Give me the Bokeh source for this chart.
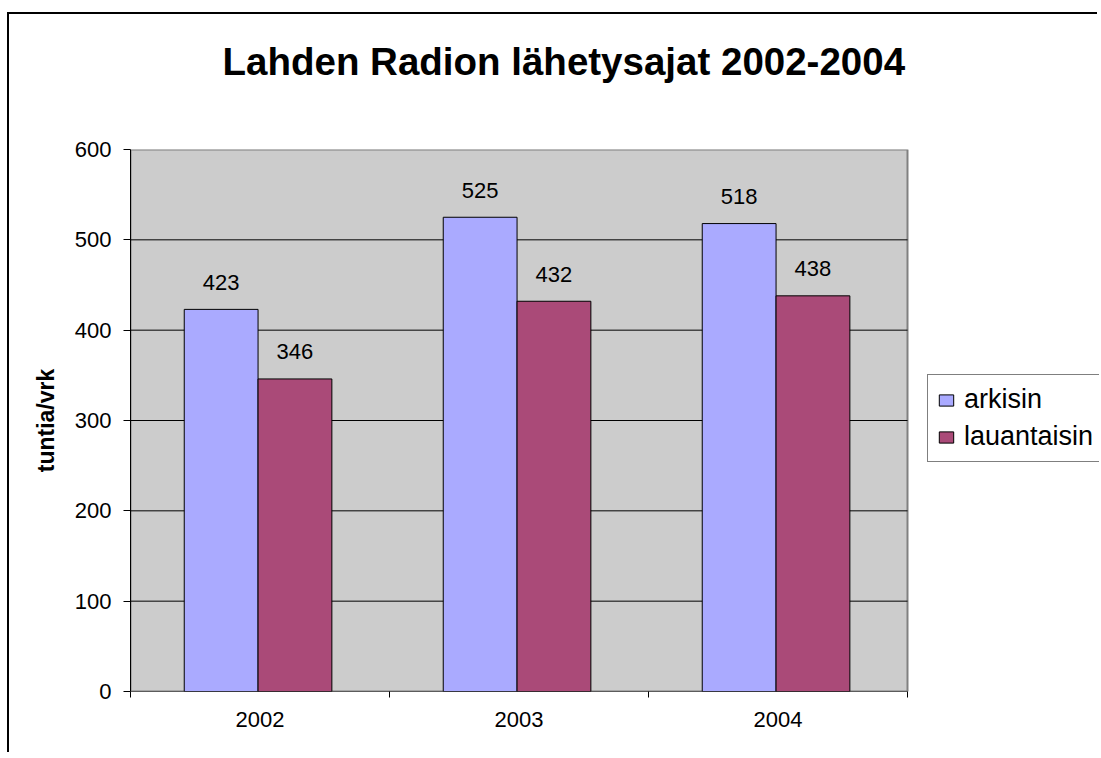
from bokeh.plotting import figure
from bokeh.models import Range1d, FixedTicker, Legend, LegendItem, ColumnDataSource, Title
from bokeh.core.properties import value
from bokeh.embed import file_html
from bokeh.resources import INLINE

years = ["2002", "2003", "2004"]
arkisin = [423, 525, 518]
lauantaisin = [346, 432, 438]
y_ticks = [0, 100, 200, 300, 400, 500, 600]
series_names = ["arkisin", "lauantaisin"]
colors = ["#AAAAFF", "#AA4A78"]
title_text = "Lahden Radion lähetysajat 2002-2004"

FONT = "Liberation Sans"

n = len(years)
idx = list(range(n))
y_max = y_ticks[-1]
src = ColumnDataSource(dict(
    x1=[i + 0.35 for i in idx],
    x2=[i + 0.635 for i in idx],
    a=arkisin, l=lauantaisin,
    ta=[str(v) for v in arkisin], tl=[str(v) for v in lauantaisin],
))

W, H = 1090, 740
# the frame spans the plot area plus the legend area to its right
x_end = n * 969 / 777
p = figure(width=W, height=H, output_backend="svg", toolbar_location=None,
           x_range=Range1d(0, x_end), y_range=Range1d(0, y_max),
           min_border_left=121, min_border_right=0,
           min_border_top=135, min_border_bottom=63,
           background_fill_color="white", border_fill_color="white")
p.title = None
p.outline_line_color = None
p.styles = {"margin-top": "12px", "margin-left": "7px",
            "border-top": "2px solid black", "border-left": "2px solid black"}

spacer = Title(text=" ", text_font_size="10px", standoff=54)
p.add_layout(spacer, "above")
ttl = Title(text=title_text, text_font=FONT, text_font_size="38.5px", text_font_style="bold",
            text_color="black", align="left", offset=92, standoff=0)
p.add_layout(ttl, "above")

# plot area background
p.quad(left=[0], right=[n], bottom=[0], top=[y_max], fill_color="#CCCCCC",
       line_color="#808080", line_width=2)
# horizontal gridlines
grid_vals = y_ticks[1:-1]
p.segment(x0=[0] * len(grid_vals), x1=[n] * len(grid_vals), y0=grid_vals, y1=grid_vals,
          line_color="black", line_width=1)
# category axis line
p.segment(x0=[0], x1=[n], y0=[0], y1=[0], line_color="black", line_width=1)

r1 = p.vbar(x="x1", top="a", width=0.285, source=src, fill_color=colors[0], line_color="black", line_width=1)
r2 = p.vbar(x="x2", top="l", width=0.285, source=src, fill_color=colors[1], line_color="black", line_width=1)

p.text(x="x1", y="a", text="ta", source=src, text_align="center", text_baseline="alphabetic",
       y_offset=-27, text_font=value(FONT), text_font_size="22px", text_color="black")
p.text(x="x2", y="l", text="tl", source=src, text_align="center", text_baseline="alphabetic",
       y_offset=-27, text_font=value(FONT), text_font_size="22px", text_color="black")

# axes
p.xgrid.visible = False
p.ygrid.visible = False
p.yaxis.ticker = FixedTicker(ticks=y_ticks)
p.yaxis.major_tick_in = 0
p.yaxis.major_tick_out = 7
p.yaxis.minor_tick_line_color = None
p.yaxis.major_label_standoff = 12
p.yaxis.axis_label = "tuntia/vrk"
p.yaxis.axis_label_text_font = FONT
p.yaxis.axis_label_text_font_style = "bold"
p.yaxis.axis_label_text_font_size = "23px"
p.yaxis.axis_label_text_color = "black"
p.yaxis.axis_label_standoff = 13
p.yaxis.major_label_text_font = FONT
p.yaxis.major_label_text_font_size = "22px"
p.yaxis.major_label_text_color = "black"
p.yaxis.axis_line_color = "black"

p.xaxis.ticker = FixedTicker(ticks=[i + 0.5 for i in idx], minor_ticks=list(range(n + 1)))
p.xaxis.major_label_overrides = {i + 0.5: y for i, y in zip(idx, years)}
p.xaxis.major_tick_line_color = None
p.xaxis.minor_tick_in = 0
p.xaxis.minor_tick_out = 6
p.xaxis.minor_tick_line_color = "black"
p.xaxis.major_label_standoff = 14
p.xaxis.major_label_text_font = FONT
p.xaxis.major_label_text_font_size = "22px"
p.xaxis.major_label_text_color = "black"
p.xaxis.axis_line_color = None

legend = Legend(items=[LegendItem(label=series_names[0], renderers=[r1]),
                       LegendItem(label=series_names[1], renderers=[r2])],
                location=(797, 229))
legend.margin = 0
legend.label_text_font = FONT
legend.label_text_font_size = "27px"
legend.label_text_color = "black"
legend.glyph_width = 18
legend.glyph_height = 14
legend.label_standoff = 9
legend.padding = 9
legend.spacing = 6
legend.border_line_color = "black"
legend.border_line_width = 1
legend.background_fill_color = "white"
legend.background_fill_alpha = 1
p.add_layout(legend, "center")

open("out.html", "w").write(file_html(p, INLINE))
